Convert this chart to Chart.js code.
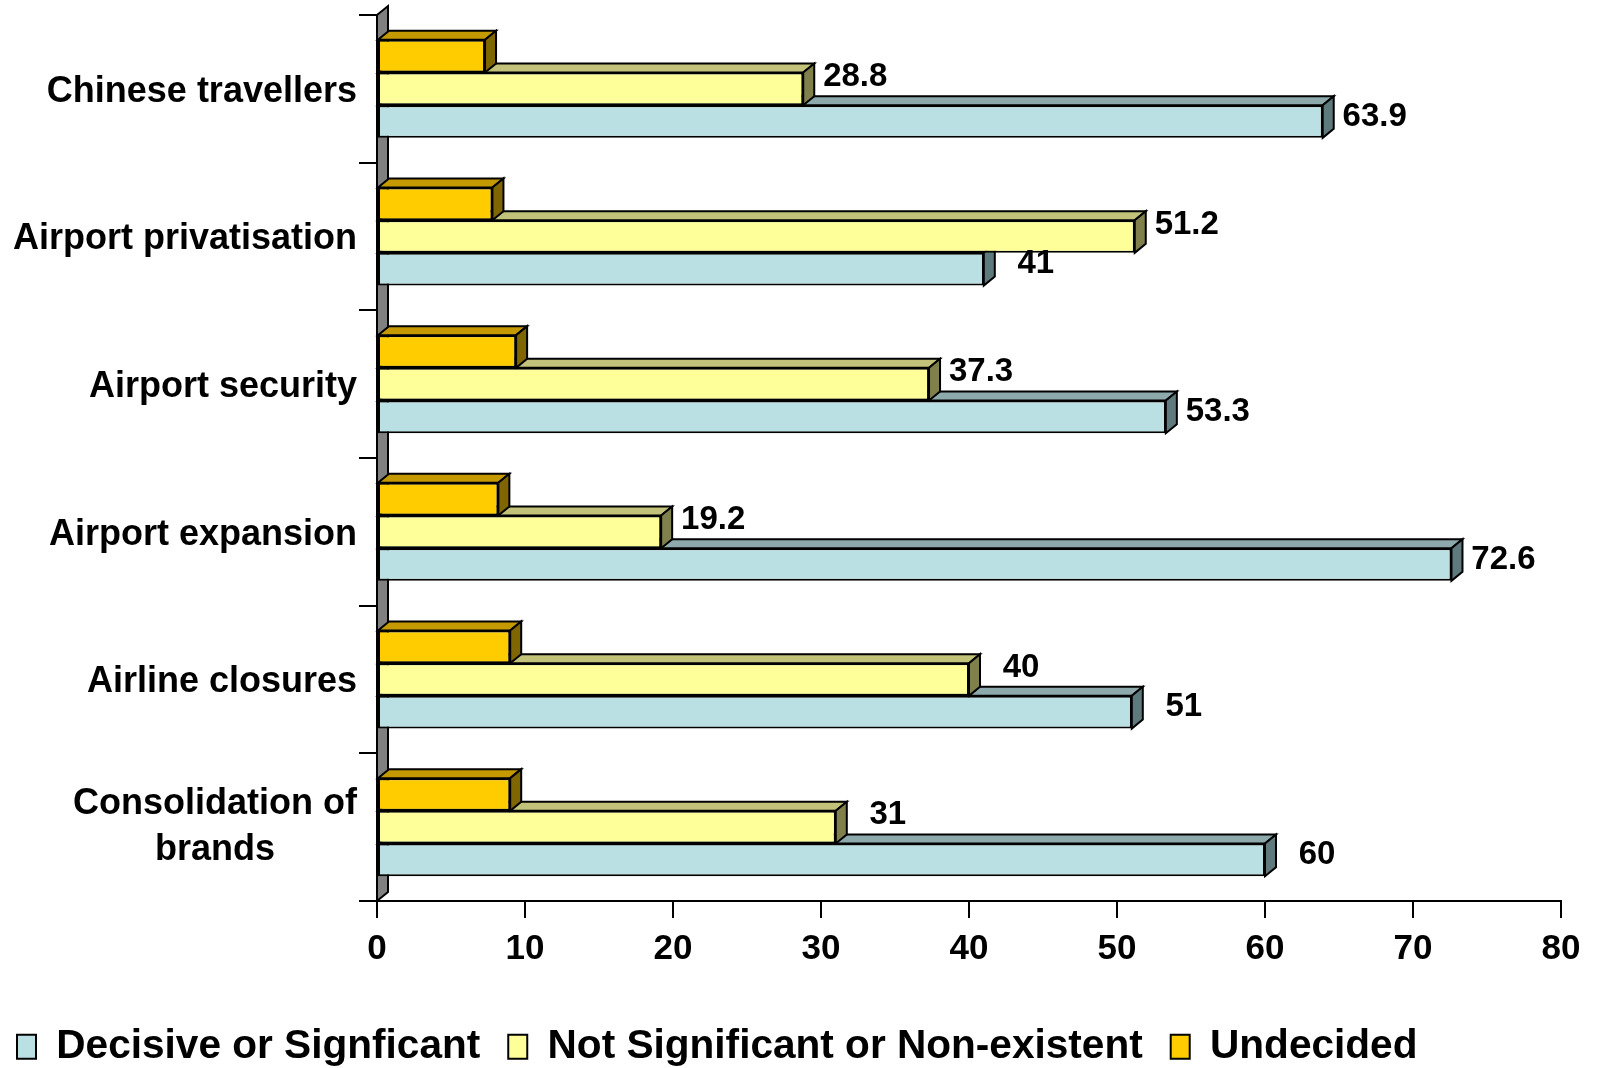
<!DOCTYPE html>
<html lang="en">
<head>
<meta charset="UTF-8">
<title>Impact on airport business</title>
<script src="https://cdn.jsdelivr.net/npm/chart.js"></script>
<style>
  body { margin: 0; background: #fff; }
  canvas { display: block; }
</style>
</head>
<body>
<canvas id="impactChart" width="1598" height="1068"></canvas>
<script>
// categories, top to bottom
const categories = [
  'Chinese travellers',
  'Airport privatisation',
  'Airport security',
  'Airport expansion',
  'Airline closures',
  ['Consolidation of', 'brands']
];
const decisive = [63.9, 41, 53.3, 72.6, 51, 60];
const notSignificant = [28.8, 51.2, 37.3, 19.2, 40, 31];
const undecided = [7.3, 7.8, 9.4, 8.2, 9, 9];
const xTicks = [0, 10, 20, 30, 40, 50, 60, 70, 80];

const FONT = '"Liberation Sans", Arial, Helvetica, sans-serif';
const DX = 11, DY = 9;   // depth of the 3D extrusion

Chart.defaults.font.family = FONT;
Chart.defaults.color = '#000';

function poly(ctx, pts, fill) {
  ctx.beginPath();
  ctx.moveTo(pts[0][0], pts[0][1]);
  for (let i = 1; i < pts.length; i++) ctx.lineTo(pts[i][0], pts[i][1]);
  ctx.closePath();
  ctx.fillStyle = fill;
  ctx.fill();
  ctx.stroke();
}

// side wall + top / right faces of the bars
const depthPlugin = {
  id: 'depth',
  beforeDatasetsDraw(chart) {
    const ctx = chart.ctx;
    const a = chart.chartArea;
    ctx.save();
    ctx.lineWidth = 2;
    ctx.strokeStyle = '#000';
    ctx.lineJoin = 'miter';
    poly(ctx, [[a.left, a.top], [a.left + DX, a.top - DY], [a.left + DX, a.bottom - DY], [a.left, a.bottom]], '#808080');
    // bottom bar of each group first so the ones above overlap it
    for (let d = chart.data.datasets.length - 1; d >= 0; d--) {
      const ds = chart.data.datasets[d];
      chart.getDatasetMeta(d).data.forEach(bar => {
        const p = bar.getProps(['x', 'y', 'base', 'height'], true);
        const top = p.y - p.height / 2, bottom = p.y + p.height / 2;
        poly(ctx, [[p.base, top], [p.x, top], [p.x + DX, top - DY], [p.base + DX, top - DY]], ds.topColor);
        poly(ctx, [[p.x, top], [p.x, bottom], [p.x + DX, bottom - DY], [p.x + DX, top - DY]], ds.sideColor);
      });
    }
    ctx.restore();
  }
};

// value labels right of the bars
const valueLabels = {
  id: 'valueLabels',
  afterDatasetsDraw(chart) {
    const ctx = chart.ctx;
    ctx.save();
    ctx.font = 'bold 33px ' + FONT;
    ctx.fillStyle = '#000';
    ctx.textAlign = 'center';
    ctx.textBaseline = 'middle';
    chart.data.datasets.forEach((ds, d) => {
      if (ds.labelOffset == null) return;
      chart.getDatasetMeta(d).data.forEach((bar, i) => {
        const p = bar.getProps(['x', 'y'], true);
        ctx.fillText(String(ds.data[i]), p.x + 52, p.y + ds.labelOffset);
      });
    });
    ctx.restore();
  }
};

// category names: right aligned block, lines centred inside it
const categoryLabels = {
  id: 'categoryLabels',
  afterDraw(chart) {
    const ctx = chart.ctx;
    const y = chart.scales.y;
    const right = chart.chartArea.left - 20;
    const lineH = 46;
    ctx.save();
    ctx.font = 'bold 36px ' + FONT;
    ctx.fillStyle = '#000';
    ctx.textBaseline = 'middle';
    ctx.textAlign = 'center';
    categories.forEach((label, i) => {
      const lines = Array.isArray(label) ? label : [label];
      const w = Math.max(...lines.map(l => ctx.measureText(l).width));
      const cy = y.getPixelForTick(i) + (lines.length === 1 ? 3 : 0);
      lines.forEach((l, k) => {
        ctx.fillText(l, right - w / 2, cy + (k - (lines.length - 1) / 2) * lineH);
      });
    });
    ctx.restore();
  }
};

// nudge the legend row toward the bottom-left corner
const legendShift = {
  id: 'legendShift',
  afterUpdate(chart) {
    chart.legend.left -= 11;
    chart.legend.top += 9;
  }
};

new Chart(document.getElementById('impactChart'), {
  type: 'bar',
  data: {
    labels: categories,
    datasets: [
      {
        label: 'Undecided',
        data: undecided,
        backgroundColor: '#FFCC00',
        topColor: '#C49A00',
        sideColor: '#806600'
      },
      {
        label: 'Not Significant or Non-existent',
        data: notSignificant,
        backgroundColor: '#FFFF99',
        topColor: '#C2C27A',
        sideColor: '#80804D',
        labelOffset: -12
      },
      {
        label: 'Decisive or Signficant',
        data: decisive,
        backgroundColor: '#BBE0E3',
        topColor: '#8DA9AB',
        sideColor: '#5E7A7C',
        labelOffset: -5
      }
    ].map(ds => Object.assign(ds, {
      borderColor: '#000',
      borderWidth: 2,
      borderSkipped: false,
      categoryPercentage: 0.664,
      barPercentage: 1
    }))
  },
  options: {
    indexAxis: 'y',
    responsive: false,
    animation: false,
    layout: { padding: { top: 15, right: 37, left: 0, bottom: 0 } },
    scales: {
      x: {
        min: 0,
        max: 80,
        afterBuildTicks(scale) { scale.ticks = xTicks.map(v => ({ value: v })); },
        afterFit(scale) { scale.height = 88.4; },
        grid: { drawOnChartArea: false, drawTicks: true, tickLength: 17, color: '#000', lineWidth: 2 },
        border: { display: true, color: '#000', width: 2 },
        ticks: { font: { size: 35, weight: 'bold' }, padding: 10, color: '#000' }
      },
      y: {
        afterFit(scale) { scale.width = 377; },
        grid: { drawOnChartArea: false, drawTicks: true, tickLength: 18, color: '#000', lineWidth: 2, offset: true },
        border: { display: false },
        ticks: { display: false }
      }
    },
    plugins: {
      tooltip: { enabled: false },
      legend: {
        position: 'bottom',
        align: 'start',
        reverse: true,
        labels: {
          boxWidth: 19,
          boxHeight: 24,
          padding: 28,
          font: { size: 40.6, weight: 'bold' },
          color: '#000'
        }
      }
    }
  },
  plugins: [depthPlugin, valueLabels, categoryLabels, legendShift]
});
</script>
</body>
</html>
